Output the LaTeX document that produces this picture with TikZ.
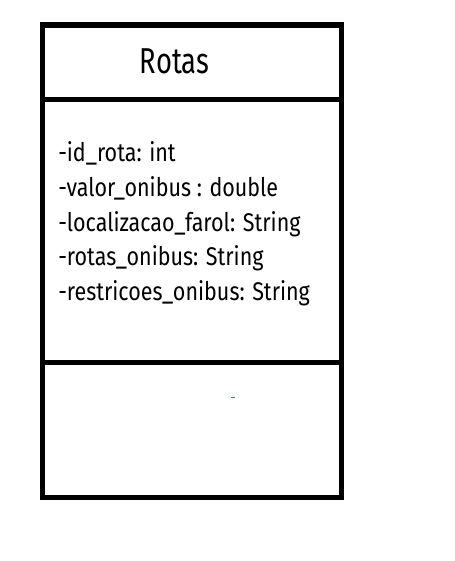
\documentclass[tikz,border=0pt]{standalone}
\usepackage{fontspec}
\setmainfont{Fira Sans}[FakeStretch=0.84]
\newfontfamily\titlefamily{Fira Sans}[FakeStretch=0.76]
\begin{document}
\begin{tikzpicture}[x=0.75pt,y=-0.75pt]
\tikzset{
  umlbox/.style={draw=black,line width=4.2pt},
  attr/.style={anchor=base west,inner sep=0pt,font=\fontsize{19.2}{22}\selectfont},
  titletext/.style={anchor=base,inner sep=0pt,font=\titlefamily\fontsize{27}{30}\selectfont}
}
\useasboundingbox (0,0) rectangle (454,561);
\coordinate (tl) at (42.5,25);
\coordinate (br1) at (341.5,99.5);
\coordinate (tl2) at (42.5,99.5);
\coordinate (br2) at (341.5,362.5);
\coordinate (tl3) at (42.5,362.5);
\coordinate (br3) at (341.5,497.5);
\draw[umlbox] (tl) rectangle (br1);
\draw[umlbox] (tl2) rectangle (br2);
\draw[umlbox] (tl3) rectangle (br3);
\node[titletext] (title) at (174.5,73.5) {Rotas};
\node[attr] (a1) at (58,161.5) {-id\_rota: int};
\node[attr] (a2) at (58,196.3) {-valor\_onibus : double};
\node[attr] (a3) at (58,231.1) {-localizacao\_farol: String};
\node[attr] (a4) at (58,265.9) {-rotas\_onibus: String};
\node[attr] (a5) at (58,300.5) {-restricoes\_onibus: String};
\coordinate (m1) at (230.5,397);
\coordinate (m2) at (234.5,397);
\draw[draw={rgb,255:red,40;green,120;blue,200},line width=0.75pt] (m1) -- (m2);
\end{tikzpicture}
\end{document}
